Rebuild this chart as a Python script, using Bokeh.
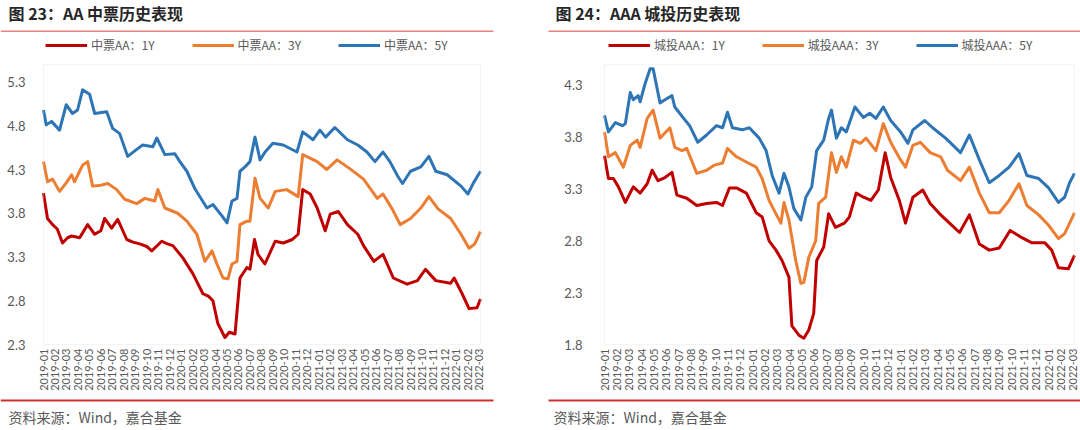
from math import pi
from bokeh.plotting import figure
from bokeh.models import (Range1d, FixedTicker, Legend, LegendItem, Label,
                          BoxAnnotation, NumeralTickFormatter)
from bokeh.core.properties import value
from bokeh.layouts import column, row
from bokeh.embed import file_html
from bokeh.resources import INLINE

# ---------------- data ----------------
month_labels = [
    "2019-01", "2019-02", "2019-03", "2019-04", "2019-05", "2019-06", "2019-07",
    "2019-08", "2019-09", "2019-10", "2019-11", "2019-12", "2020-01", "2020-02",
    "2020-03", "2020-04", "2020-05", "2020-06", "2020-07", "2020-08", "2020-09",
    "2020-10", "2020-11", "2020-12", "2021-01", "2021-02", "2021-03", "2021-04",
    "2021-05", "2021-06", "2021-07", "2021-08", "2021-09", "2021-10", "2021-11",
    "2021-12", "2022-01", "2022-02", "2022-03",
]

# time in months since 2019-01 ; yields (%)
aa_1y_t = [0.0, 0.35, 0.79, 1.2, 1.66, 2.1, 2.45, 3.15, 3.85, 4.46, 5.0, 5.33, 5.94, 6.47,
           7.26, 7.8, 8.39, 9.0, 9.44, 10.31, 10.8, 11.28, 12.15, 13.02, 13.9, 14.4, 14.77,
           15.2, 15.82, 16.2, 16.7, 17.13, 17.74, 18.0, 18.4, 18.7, 19.3, 20.2, 20.9, 21.7,
           22.2, 22.6, 23.25, 23.86, 24.56, 25.0, 25.7, 26.5, 27.4, 27.9, 28.8, 29.6, 30.5,
           31.7, 32.6, 33.3, 34.2, 35.5, 35.8, 36.5, 37.1, 37.8, 38.1]
aa_1y_v = [4.03, 3.74, 3.67, 3.62, 3.46, 3.52, 3.54, 3.52, 3.67, 3.56, 3.60, 3.74, 3.63, 3.73,
           3.50, 3.47, 3.45, 3.42, 3.37, 3.48, 3.45, 3.43, 3.29, 3.11, 2.88, 2.85, 2.80,
           2.54, 2.38, 2.44, 2.42, 3.06, 3.18, 3.16, 3.50, 3.33, 3.22, 3.48, 3.46, 3.50,
           3.56, 4.07, 4.02, 3.86, 3.60, 3.79, 3.82, 3.67, 3.56, 3.43, 3.25, 3.33, 3.06,
           2.99, 3.03, 3.16, 3.03, 3.00, 3.06, 2.88, 2.71, 2.72, 2.82]

aa_3y_t = [0.0, 0.35, 0.79, 1.4, 2.0, 2.45, 2.7, 3.41, 3.85, 4.28, 5.0, 5.6, 6.38, 7.08,
           8.13, 8.83, 9.7, 9.97, 10.58, 11.7, 12.5, 13.37, 14.07, 14.69, 15.12, 15.65,
           16.08, 16.43, 16.87, 17.13, 17.74, 18.0, 18.44, 18.88, 19.6, 20.2, 21.2, 22.2,
           22.6, 23.86, 24.7, 25.6, 26.7, 27.9, 29.1, 29.6, 30.4, 31.1, 32.0, 32.9, 33.6,
           34.4, 35.5, 36.4, 37.1, 37.6, 38.1]
aa_3y_v = [4.39, 4.16, 4.19, 4.05, 4.15, 4.24, 4.16, 4.35, 4.39, 4.11, 4.12, 4.14, 4.07, 3.96,
           3.91, 3.97, 3.94, 4.07, 3.86, 3.80, 3.71, 3.56, 3.25, 3.37, 3.22, 3.06,
           3.05, 3.22, 3.25, 3.67, 3.71, 3.71, 4.20, 3.97, 3.86, 4.05, 4.07, 3.99,
           4.47, 4.39, 4.30, 4.41, 4.31, 4.19, 3.97, 4.02, 3.85, 3.67, 3.74, 3.86, 3.99,
           3.85, 3.74, 3.56, 3.40, 3.45, 3.59]

aa_5y_t = [0.0, 0.24, 0.7, 1.4, 1.98, 2.53, 2.97, 3.41, 4.02, 4.46, 5.51, 6.03, 6.64, 7.34,
           8.13, 8.65, 9.53, 9.88, 10.58, 11.45, 11.89, 12.5, 13.2, 14.25, 14.77, 15.56,
           16.0, 16.43, 16.87, 17.13, 17.57, 18.0, 18.44, 18.88, 19.32, 20.0, 20.9, 22.1,
           22.6, 23.5, 24.1, 24.6, 25.4, 26.5, 27.4, 28.2, 28.9, 29.6, 30.2, 30.9, 31.3,
           32.0, 32.9, 33.6, 34.2, 35.2, 36.4, 37.0, 37.5, 38.1]
aa_5y_v = [4.98, 4.81, 4.85, 4.75, 5.04, 4.94, 4.98, 5.21, 5.16, 4.94, 4.96, 4.77, 4.71, 4.45,
           4.53, 4.58, 4.56, 4.66, 4.47, 4.48, 4.39, 4.28, 4.08, 3.86, 3.90, 3.77,
           3.69, 3.94, 3.97, 4.28, 4.33, 4.39, 4.67, 4.41, 4.50, 4.60, 4.58, 4.50,
           4.73, 4.64, 4.75, 4.67, 4.78, 4.64, 4.58, 4.50, 4.39, 4.50, 4.39, 4.22, 4.14,
           4.28, 4.33, 4.45, 4.28, 4.24, 4.11, 4.02, 4.15, 4.28]

ct_1y_t = [0.0, 0.32, 0.72, 1.13, 1.69, 2.33, 2.89, 3.46, 3.86, 4.34, 4.9, 5.47, 5.87, 6.67,
           7.48, 8.28, 9.08, 9.57, 10.13, 10.7, 11.5, 12.3, 12.78, 13.34, 13.9, 14.39,
           14.95, 15.19, 15.76, 16.16, 16.56, 16.96, 17.2, 17.77, 18.17, 18.72, 19.45,
           19.85, 20.4, 21.0, 21.6, 22.2, 22.75, 23.2, 23.9, 24.4, 25.0, 25.8, 26.4, 27.17,
           27.97, 28.78, 29.58, 30.39, 31.19, 32.0, 32.88, 33.84, 34.65, 35.7, 36.25, 36.8,
           37.6, 38.1]
ct_1y_v = [3.62, 3.40, 3.40, 3.32, 3.17, 3.32, 3.26, 3.35, 3.48, 3.38, 3.41, 3.46, 3.24, 3.21,
           3.14, 3.16, 3.17, 3.14, 3.31, 3.31, 3.26, 3.07, 3.03, 2.80, 2.71, 2.61,
           2.45, 1.98, 1.89, 1.86, 1.94, 2.10, 2.61, 2.74, 3.06, 2.93, 2.97,
           3.03, 3.26, 3.22, 3.19, 3.29, 3.65, 3.41, 3.19, 2.97, 3.22, 3.29, 3.16, 3.06,
           2.97, 2.88, 3.05, 2.77, 2.71, 2.73, 2.90, 2.83, 2.78, 2.78, 2.71, 2.54,
           2.53, 2.66]

ct_3y_t = [0.0, 0.32, 0.88, 1.53, 2.09, 2.65, 2.89, 3.46, 3.94, 4.5, 4.9, 5.3, 5.7, 6.27,
           6.67, 7.48, 8.28, 8.92, 9.57, 9.97, 10.7, 11.5, 12.3, 12.78, 13.34, 13.9, 14.3,
           14.55, 14.95, 15.5, 15.92, 16.16, 16.56, 17.12, 17.36, 17.93, 18.4, 18.8, 19.2,
           19.6, 20.18, 20.74, 21.2, 22.0, 22.6, 23.2, 23.9, 24.4, 25.0, 25.6, 26.4, 27.25,
           27.8, 28.86, 29.58, 30.39, 31.19, 32.0, 32.8, 33.6, 34.24, 35.2, 36.0, 36.8,
           37.3, 38.1]
ct_3y_v = [3.85, 3.61, 3.65, 3.51, 3.72, 3.77, 3.70, 3.98, 4.06, 3.79, 3.84, 3.89, 3.70, 3.67,
           3.69, 3.45, 3.48, 3.53, 3.55, 3.69, 3.61, 3.56, 3.51, 3.40, 3.19, 3.06, 2.97,
           3.17, 3.00, 2.61, 2.39, 2.40, 2.64, 2.80, 3.16, 3.22, 3.65, 3.46, 3.61,
           3.51, 3.77, 3.74, 3.79, 3.67, 3.93, 3.75, 3.60, 3.51, 3.72, 3.75, 3.65, 3.61,
           3.48, 3.38, 3.51, 3.26, 3.07, 3.07, 3.19, 3.35, 3.14, 3.05, 2.95, 2.82,
           2.87, 3.07]

ct_5y_t = [0.0, 0.32, 0.88, 1.45, 1.69, 2.09, 2.33, 2.73, 2.89, 3.3, 3.7, 3.94, 4.5, 4.9,
           5.47, 5.7, 6.35, 6.9, 7.56, 8.28, 9.08, 9.57, 9.97, 10.37, 11.17, 11.74, 12.54,
           13.1, 13.59, 14.15, 14.55, 14.95, 15.35, 15.92, 16.32, 16.8, 17.2, 17.77, 18.17,
           18.4, 18.8, 19.2, 19.6, 20.3, 20.98, 21.5, 22.0, 22.6, 23.2, 24.0, 24.6, 25.0,
           25.96, 26.6, 27.65, 28.86, 29.58, 30.39, 31.19, 32.0, 32.8, 33.6, 34.24, 35.2,
           36.0, 36.8, 37.3, 37.7, 38.1]
ct_5y_v = [4.01, 3.85, 3.94, 3.91, 3.93, 4.23, 4.16, 4.20, 4.14, 4.32, 4.46, 4.46, 4.13, 4.16,
           4.20, 4.09, 3.99, 3.91, 3.75, 3.82, 3.91, 3.89, 4.04, 3.89, 3.87, 3.89, 3.79,
           3.67, 3.43, 3.26, 3.45, 3.32, 3.11, 3.00, 3.22, 3.32, 3.67, 3.77, 3.98,
           4.06, 3.79, 3.89, 3.85, 4.09, 3.99, 4.03, 3.98, 4.09, 3.96, 3.85, 3.74, 3.87,
           3.96, 3.89, 3.79, 3.65, 3.82, 3.58, 3.36, 3.43, 3.51, 3.64, 3.43, 3.40,
           3.31, 3.17, 3.22, 3.36, 3.45]

left_labels = ["中票AA：1Y", "中票AA：3Y", "中票AA：5Y"]
right_labels = ["城投AAA：1Y", "城投AAA：3Y", "城投AAA：5Y"]
left_yticks = [2.3, 2.8, 3.3, 3.8, 4.3, 4.8, 5.3]
right_yticks = [1.8, 2.3, 2.8, 3.3, 3.8, 4.3]
left_axis_span = (2.3, 5.5)
right_axis_span = (1.8, 4.5)
x_span = (0.0, 38.1)

COLORS = ["#C00000", "#ED7D31", "#2E75B6"]
GRAY = "#595959"
CJK = "Noto Sans CJK SC"
NUM = "Lato"

# ---------------- layout (page pixels) ----------------
PLOT_TOP, PLOT_BOTTOM = 34, 397      # figure strip
BOX_TOP, BOX_BOTTOM = 64, 344        # Excel plot box


def make_panel(series, labels, span, yticks, fig_left, frame_left, box_left, box_right,
               frame_right, fig_right, standoff, legend_dx):
    width = fig_right - fig_left
    height = PLOT_BOTTOM - PLOT_TOP
    x0, x1 = x_span
    sx = (box_right - box_left) / (x1 - x0)
    lo, hi = span
    sy = (BOX_BOTTOM - BOX_TOP) / (hi - lo)
    xr = Range1d(x0 - (box_left - frame_left) / sx, x1 + (frame_right - box_right) / sx)
    yr = Range1d(lo - (PLOT_BOTTOM - BOX_BOTTOM) / sy, hi + (BOX_TOP - PLOT_TOP) / sy)
    p = figure(width=width, height=height, output_backend="svg", toolbar_location=None,
               x_range=xr, y_range=yr, x_axis_location=None,
               min_border_left=frame_left - fig_left, min_border_right=fig_right - frame_right,
               min_border_top=0, min_border_bottom=0)
    p.grid.visible = False
    p.outline_line_color = None
    p.background_fill_color = "white"
    p.border_fill_color = "white"
    # plot box (Excel-style light frame)
    p.add_layout(BoxAnnotation(left=x0, right=x1, bottom=lo, top=hi,
                               fill_alpha=0, line_color="#D9D9D9", line_width=1))
    rends = []
    for (t, v), c in zip(series, COLORS):
        rends.append(p.line(t, v, line_color=c, line_width=3, line_join="round"))
    # month labels under the box (vertical, reading upwards)
    p.text(x=list(range(len(month_labels))), y=[lo - 4 / sy] * len(month_labels),
           text=month_labels, angle=pi / 2, text_align="right", text_baseline="middle",
           text_font=value(NUM), text_font_size="11px", text_color=GRAY)
    # y axis
    p.yaxis.ticker = FixedTicker(ticks=yticks)
    p.yaxis.formatter = NumeralTickFormatter(format="0.0")
    p.yaxis.major_label_text_font = NUM
    p.yaxis.major_label_text_font_size = "13px"
    p.yaxis.major_label_text_color = GRAY
    p.yaxis.major_label_standoff = standoff
    p.yaxis.axis_line_color = None
    p.yaxis.major_tick_line_color = None
    p.yaxis.minor_tick_line_color = None
    # legend in the strip above the box
    items = [LegendItem(label=l, renderers=[r]) for l, r in zip(labels, rends)]
    leg = Legend(items=items, orientation="horizontal",
                 location=(legend_dx, height - 19),
                 spacing=37, glyph_width=42, glyph_height=16, label_height=16,
                 label_standoff=4, label_text_font_size="12px", label_text_color=GRAY,
                 label_text_font=CJK, padding=0, margin=0, border_line_color=None,
                 background_fill_alpha=0)
    p.add_layout(leg, "center")
    return p


p1 = make_panel([(aa_1y_t, aa_1y_v), (aa_3y_t, aa_3y_v), (aa_5y_t, aa_5y_v)],
                left_labels, left_axis_span, left_yticks,
                fig_left=0, frame_left=35, box_left=43, box_right=480, frame_right=488,
                fig_right=540, standoff=4, legend_dx=10)
p2 = make_panel([(ct_1y_t, ct_1y_v), (ct_3y_t, ct_3y_v), (ct_5y_t, ct_5y_v)],
                right_labels, right_axis_span, right_yticks,
                fig_left=540, frame_left=596, box_left=604, box_right=1074, frame_right=1080,
                fig_right=1080, standoff=8, legend_dx=12)


def canvas(h):
    c = figure(width=1080, height=h, output_backend="svg", toolbar_location=None,
               x_range=Range1d(0, 1080), y_range=Range1d(h, 0),
               x_axis_location=None, y_axis_location=None, min_border=0)
    c.grid.visible = False
    c.outline_line_color = None
    c.border_fill_color = "white"
    c.background_fill_color = "white"
    return c


hdr = canvas(PLOT_TOP)
hdr.add_layout(Label(x=8, y=12.5, text="图 23：AA 中票历史表现", text_font=CJK,
                     text_font_style="bold", text_font_size="16px",
                     text_baseline="middle", text_color="#262626"))
hdr.add_layout(Label(x=555, y=12.5, text="图 24：AAA 城投历史表现", text_font=CJK,
                     text_font_style="bold", text_font_size="16px",
                     text_baseline="middle", text_color="#262626"))
for lft, rgt in [(0, 493), (548, 1080)]:
    hdr.add_layout(BoxAnnotation(left=lft, right=rgt, top=30, bottom=31.5,
                                 fill_color="#E88080", fill_alpha=1, line_color=None))

ftr = canvas(430 - PLOT_BOTTOM)
for lft, rgt in [(0, 493), (548, 1080)]:
    ftr.add_layout(BoxAnnotation(left=lft, right=rgt, top=2, bottom=4,
                                 fill_color="#D0312D", fill_alpha=1, line_color=None))
ftr.add_layout(Label(x=8, y=19, text="资料来源：Wind，嘉合基金", text_font=CJK,
                     text_font_size="14px", text_baseline="middle", text_color=GRAY))
ftr.add_layout(Label(x=553, y=19, text="资料来源：Wind，嘉合基金", text_font=CJK,
                     text_font_size="14px", text_baseline="middle", text_color=GRAY))

layout = column(hdr, row(p1, p2), ftr)

open("out.html", "w").write(file_html(layout, INLINE))
